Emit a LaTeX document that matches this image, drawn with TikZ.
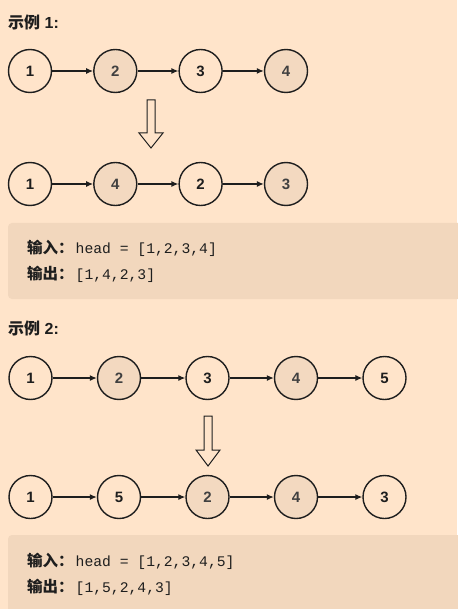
\documentclass[tikz,border=0pt]{standalone}
\usepackage{fontspec}
\setmainfont{Liberation Sans}
\setmonofont{Liberation Mono}
\newfontfamily\cjk{Noto Sans CJK SC}
\usetikzlibrary{arrows.meta}
\definecolor{pagebg}{HTML}{FFE4CA}
\definecolor{codebg}{HTML}{F2D7BD}
\definecolor{swapfill}{HTML}{F3D9C0}
\definecolor{ink}{HTML}{1E1E1E}
\newlength{\noderadius}
\setlength{\noderadius}{21.5pt}
\newcommand{\exhead}[1]{{\cjk\bfseries 示例} \textbf{#1:}}
\newcommand{\codeline}[2]{{\cjk\fontsize{15.5}{18}\selectfont\bfseries #1：}\hspace{2pt}{\fontsize{14.7}{17}\selectfont\texttt{#2}}}

\begin{document}
\begin{tikzpicture}[x=1pt,y=-1pt]
  \tikzstyle{listnode}=[
       circle,
       draw=ink,
       line width=1.4pt,
       minimum size=2\noderadius,
       inner sep=0pt,
       font=\fontsize{15}{18}\selectfont\bfseries,
       text=ink]
  \tikzstyle{swapnode}=[listnode, fill=swapfill, text=ink!85]
  \tikzstyle{nextarrow}=[-{Latex[length=7pt,width=6pt]}, line width=1.2pt, draw=ink]
  \tikzstyle{bigarrow}=[draw=ink, line width=1pt, fill=pagebg, line join=miter]
  \tikzstyle{textline}=[anchor=base west, inner sep=0pt, text=ink]
  \tikzstyle{codebox}=[fill=codebg, rounded corners=4pt]

  % page
  \fill[pagebg] (0,0) rectangle (457,609);
  \useasboundingbox (0,0) rectangle (457,609);

  % example 1
  \node[textline, font=\fontsize{16}{19}\selectfont] (head1) at (8,29) {\exhead{1}};
  \node[listnode] (a1) at (30,71) {1};
  \node[swapnode] (a2) at (115.3,71) {2};
  \node[listnode] (a3) at (200.6,71) {3};
  \node[swapnode] (a4) at (286,71) {4};
  \draw[nextarrow] (a1) -- (a2);
  \draw[nextarrow] (a2) -- (a3);
  \draw[nextarrow] (a3) -- (a4);
  \draw[bigarrow] (147,100) -- (155,100) -- (155,133) -- (163,133) -- (151,148)
       -- (139,133) -- (147,133) -- cycle;
  \node[listnode] (b1) at (30,184) {1};
  \node[swapnode] (b2) at (115.3,184) {4};
  \node[listnode] (b3) at (200.6,184) {2};
  \node[swapnode] (b4) at (286,184) {3};
  \draw[nextarrow] (b1) -- (b2);
  \draw[nextarrow] (b2) -- (b3);
  \draw[nextarrow] (b3) -- (b4);
  \fill[codebox] (8,223) rectangle (470,299);
  \node[textline] (in1) at (27,253) {\codeline{输入}{head = [1,2,3,4]}};
  \node[textline] (out1) at (27,279) {\codeline{输出}{[1,4,2,3]}};

  % example 2
  \node[textline, font=\fontsize{16}{19}\selectfont] (head2) at (8,334) {\exhead{2}};
  \node[listnode] (c1) at (30.5,378) {1};
  \node[swapnode] (c2) at (119,378) {2};
  \node[listnode] (c3) at (207.5,378) {3};
  \node[swapnode] (c4) at (296,378) {4};
  \node[listnode] (c5) at (384.5,378) {5};
  \draw[nextarrow] (c1) -- (c2);
  \draw[nextarrow] (c2) -- (c3);
  \draw[nextarrow] (c3) -- (c4);
  \draw[nextarrow] (c4) -- (c5);
  \draw[bigarrow] (204,416) -- (212,416) -- (212,450) -- (220,450) -- (208,466)
       -- (196,450) -- (204,450) -- cycle;
  \node[listnode] (d1) at (30.5,497) {1};
  \node[listnode] (d2) at (119,497) {5};
  \node[swapnode] (d3) at (207.5,497) {2};
  \node[swapnode] (d4) at (296,497) {4};
  \node[listnode] (d5) at (384.5,497) {3};
  \draw[nextarrow] (d1) -- (d2);
  \draw[nextarrow] (d2) -- (d3);
  \draw[nextarrow] (d3) -- (d4);
  \draw[nextarrow] (d4) -- (d5);
  \fill[codebox] (8,535) rectangle (470,620);
  \node[textline] (in2) at (27,566) {\codeline{输入}{head = [1,2,3,4,5]}};
  \node[textline] (out2) at (27,592) {\codeline{输出}{[1,5,2,4,3]}};
\end{tikzpicture}
\end{document}
